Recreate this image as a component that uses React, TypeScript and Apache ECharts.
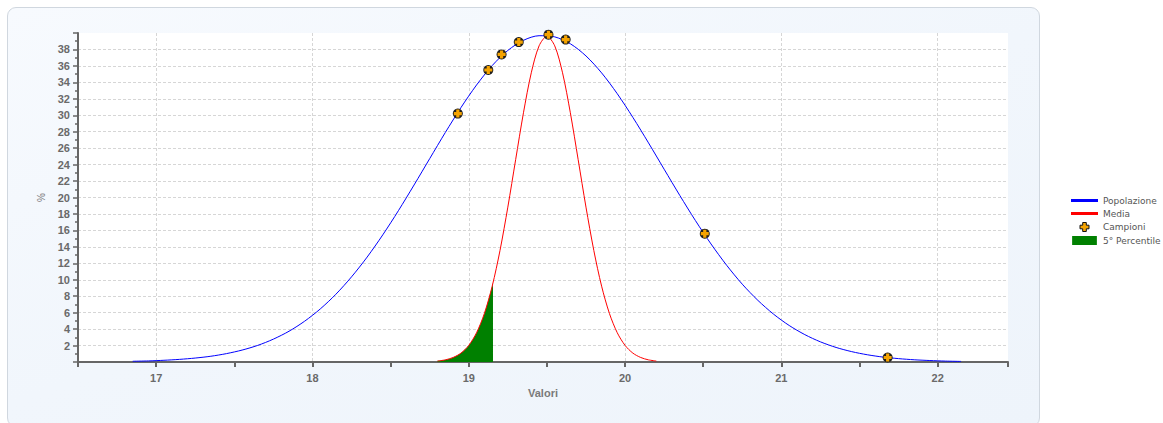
import React, { useEffect, useRef } from "react";
import * as echarts from "echarts";

// ---- data ----
const popX = [16.85, 16.95, 17.05, 17.15, 17.25, 17.35, 17.45, 17.55, 17.65, 17.75, 17.85, 17.95, 18.05, 18.15, 18.25, 18.35, 18.45, 18.55, 18.65, 18.75, 18.85, 18.95, 19.05, 19.15, 19.25, 19.35, 19.45, 19.55, 19.65, 19.75, 19.85, 19.95, 20.05, 20.15, 20.25, 20.35, 20.45, 20.55, 20.65, 20.75, 20.85, 20.95, 21.05, 21.15, 21.25, 21.35, 21.45, 21.55, 21.65, 21.75, 21.85, 21.95, 22.05, 22.15];
const popY = [0.09, 0.13, 0.21, 0.32, 0.48, 0.7, 1.02, 1.45, 2.02, 2.78, 3.74, 4.96, 6.45, 8.24, 10.35, 12.76, 15.46, 18.4, 21.52, 24.72, 27.9, 30.93, 33.68, 36.04, 37.88, 39.11, 39.67, 39.53, 38.69, 37.21, 35.15, 32.62, 29.74, 26.64, 23.44, 20.26, 17.2, 14.35, 11.76, 9.46, 7.49, 5.82, 4.44, 3.33, 2.45, 1.77, 1.26, 0.88, 0.6, 0.41, 0.27, 0.18, 0.11, 0.07];

const mediaX = [18.8, 18.85, 18.9, 18.95, 19.0, 19.05, 19.1, 19.15, 19.2, 19.25, 19.3, 19.35, 19.4, 19.45, 19.5, 19.55, 19.6, 19.65, 19.7, 19.75, 19.8, 19.85, 19.9, 19.95, 20.0, 20.05, 20.1, 20.15, 20.2];
const mediaY = [0.12, 0.26, 0.55, 1.08, 2.02, 3.56, 5.9, 9.22, 13.57, 18.83, 24.6, 30.3, 35.16, 38.44, 39.6, 38.44, 35.16, 30.3, 24.6, 18.83, 13.57, 9.22, 5.9, 3.56, 2.02, 1.08, 0.55, 0.26, 0.12];

const pctX = [18.8, 18.85, 18.9, 18.95, 19.0, 19.05, 19.1, 19.15, 19.155];
const pctY = [0.12, 0.26, 0.55, 1.08, 2.02, 3.56, 5.9, 9.22, 9.6];

const campX = [18.93, 19.125, 19.21, 19.32, 19.51, 19.62, 20.51, 21.68];
const campY = [30.2, 35.5, 37.4, 38.9, 39.8, 39.2, 15.6, 0.55];

const xTicks = [17, 18, 19, 20, 21, 22];
const yTickLabels = [2, 4, 6, 8, 10, 12, 14, 16, 18, 20, 22, 24, 26, 28, 30, 32, 34, 36, 38];

const zip = (xs: number[], ys: number[]) => xs.map((x, i) => [x, ys[i]]);

const PLUS = "path://M3,0h4v3h3v4h-3v3h-4v-3h-3v-4h3z";
const LINE_ICON = "path://M0,0h27v3h-27z";
const ORANGE = "#f5a300";
const AXIS_COLOR = "#666666";
const LABEL_STYLE = {
  color: "#6a6a6a",
  fontSize: 11,
  fontWeight: "bold" as const,
  fontFamily: "Liberation Sans, Arial, sans-serif",
};

export default function App() {
  const ref = useRef<HTMLDivElement>(null);

  useEffect(() => {
    if (!ref.current) return;
    const chart = echarts.init(ref.current, null, { renderer: "svg" });
    chart.setOption({
      animation: false,
      backgroundColor: "transparent",
      grid: {
        left: 78,
        top: 33,
        width: 930,
        height: 329,
        show: true,
        backgroundColor: "#ffffff",
        borderWidth: 0,
        containLabel: false,
      },
      legend: {
        orient: "vertical",
        left: 1066,
        top: 191,
        itemWidth: 27,
        itemHeight: 9,
        itemGap: 4,
        textStyle: { color: "#555555", fontSize: 9, fontFamily: "DejaVu Sans, sans-serif" },
        data: [
          { name: "Popolazione", icon: LINE_ICON, itemStyle: { color: "#0000ff" } },
          { name: "Media", icon: LINE_ICON, itemStyle: { color: "#ff0000" } },
          { name: "Campioni", icon: PLUS, itemStyle: { color: ORANGE, borderColor: "#111111", borderWidth: 1 } },
          { name: "5° Percentile", icon: "path://M0,0h22v8h-22z", itemStyle: { color: "#008000" } },
        ],
      },
      xAxis: {
        type: "value",
        min: 16.5,
        max: 22.45,
        interval: 0.5,
        name: "Valori",
        nameLocation: "middle",
        nameGap: 25,
        nameTextStyle: { ...LABEL_STYLE, color: "#7a7a7a" },
        axisLine: { show: true, onZero: false, lineStyle: { color: AXIS_COLOR, width: 2 } },
        axisTick: { show: true, length: 5, lineStyle: { color: AXIS_COLOR, width: 2 } },
        axisLabel: {
          ...LABEL_STYLE,
          margin: 10,
          showMinLabel: true,
          showMaxLabel: true,
          formatter: (v: number) => {
            const r = Math.round(v);
            return Math.abs(v - r) < 1e-6 && xTicks.includes(r) ? String(r) : "";
          },
        },
        splitLine: {
          show: true,
          lineStyle: { color: ["rgba(0,0,0,0)", "#d6d6d6"], type: [3, 2], width: 1 },
        },
      },
      yAxis: {
        type: "value",
        min: 0,
        max: 40,
        interval: 2,
        name: "%",
        nameLocation: "middle",
        nameGap: 24,
        nameTextStyle: { color: "#7a7a7a", fontSize: 10, fontFamily: "Liberation Sans, Arial, sans-serif" },
        axisLine: { show: true, lineStyle: { color: AXIS_COLOR, width: 2 } },
        axisTick: { show: true, length: 5, lineStyle: { color: AXIS_COLOR, width: 1.5 } },
        minorTick: { show: true, splitNumber: 2, length: 3, lineStyle: { color: AXIS_COLOR, width: 1.5 } },
        axisLabel: {
          ...LABEL_STYLE,
          margin: 8,
          formatter: (v: number) => (yTickLabels.includes(v) ? String(v) : ""),
        },
        splitLine: {
          show: true,
          showMinLine: false,
          showMaxLine: false,
          lineStyle: { color: "#d6d6d6", type: [3, 2], width: 1 },
        },
      },
      series: [
        {
          name: "Popolazione",
          type: "line",
          data: zip(popX, popY),
          smooth: 0.3,
          symbol: "none",
          color: "#0000ff",
          lineStyle: { color: "#0000ff", width: 1 },
          z: 2,
        },
        {
          name: "5° Percentile",
          type: "line",
          data: zip(pctX, pctY),
          smooth: 0.3,
          symbol: "none",
          color: "#008000",
          lineStyle: { width: 0 },
          areaStyle: { color: "#008000", opacity: 1 },
          z: 3,
        },
        {
          name: "Media",
          type: "line",
          data: zip(mediaX, mediaY),
          smooth: 0.3,
          symbol: "none",
          color: "#ff0000",
          lineStyle: { color: "#ff0000", width: 1 },
          z: 4,
        },
        {
          name: "Campioni",
          type: "scatter",
          data: zip(campX, campY),
          symbol: "circle",
          symbolSize: 10,
          itemStyle: { color: "#1e1e1e", opacity: 1 },
          z: 5,
        },
        {
          name: "campioni-inner",
          type: "scatter",
          data: zip(campX, campY),
          symbol: PLUS,
          symbolSize: 8,
          silent: true,
          itemStyle: { color: ORANGE, opacity: 1 },
          z: 6,
        },
      ],
    });
    return () => chart.dispose();
  }, []);

  return (
    <div style={{ position: "absolute", left: 0, top: 0, width: 1163, height: 423, background: "#ffffff", overflow: "hidden" }}>
      <div
        style={{
          position: "absolute",
          left: 7,
          top: 7,
          width: 1033,
          height: 420,
          border: "1px solid #d0d7df",
          borderRadius: 9,
          background: "linear-gradient(160deg, #f7fafe 0%, #f1f6fc 50%, #eef4fb 100%)",
          boxSizing: "border-box",
        }}
      />
      <div ref={ref} style={{ position: "absolute", left: 0, top: 0, width: 1163, height: 423 }} />
    </div>
  );
}
